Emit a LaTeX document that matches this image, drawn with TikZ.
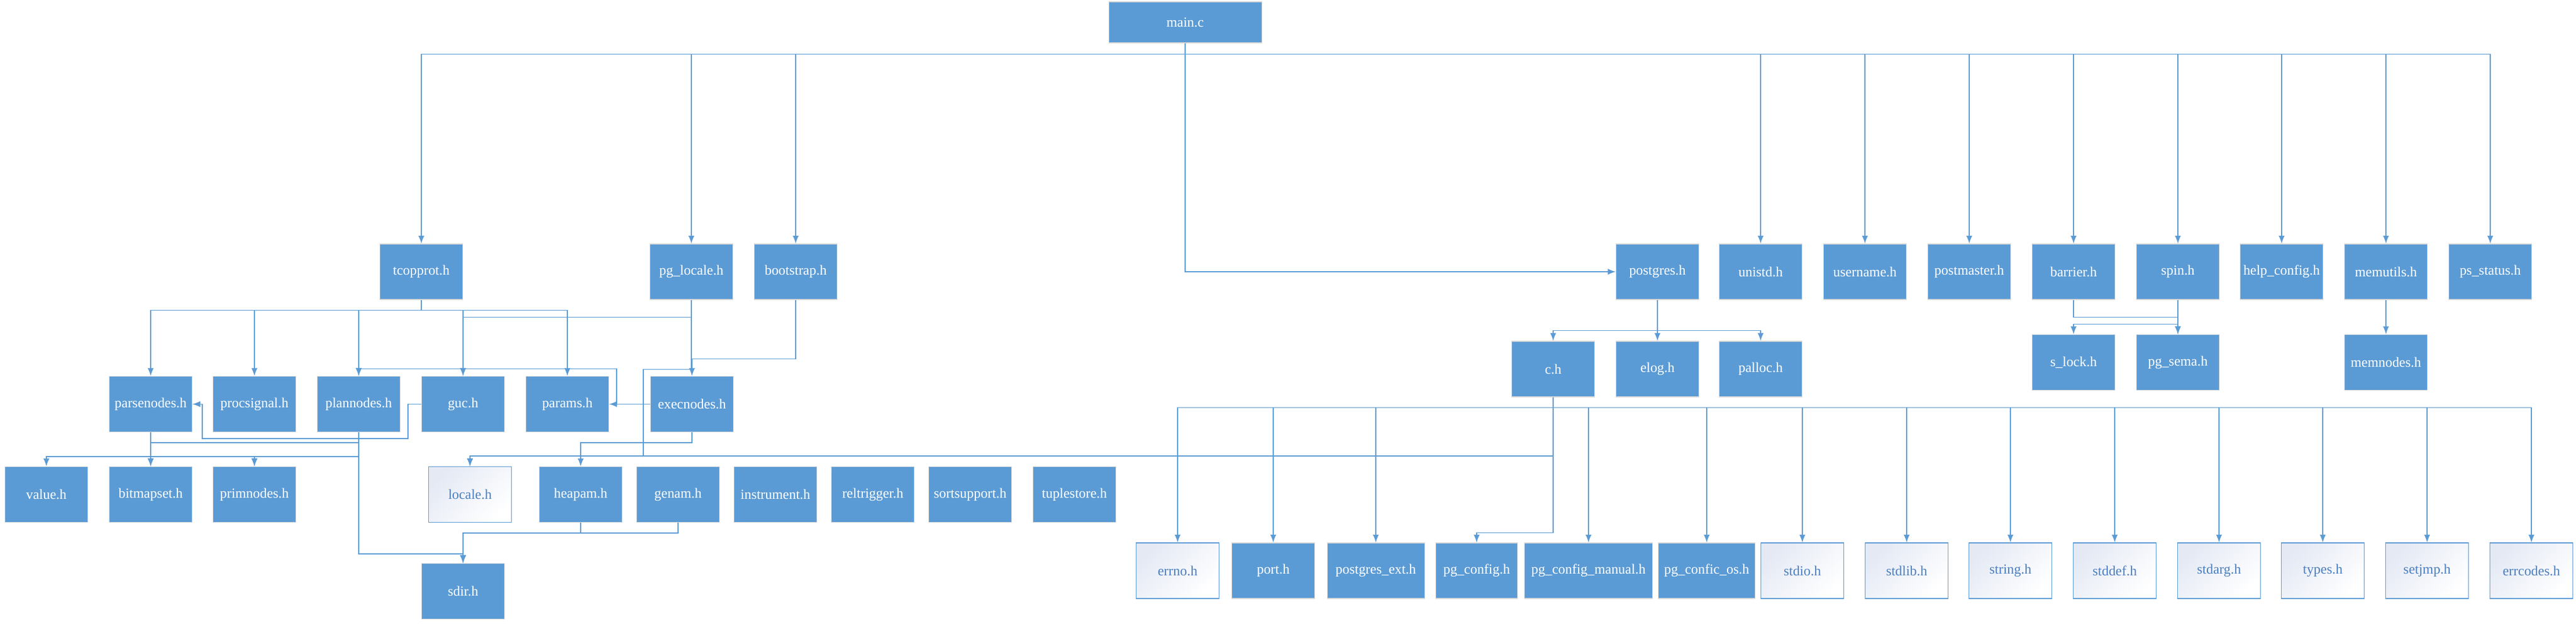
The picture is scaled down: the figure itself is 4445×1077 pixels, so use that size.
\documentclass[tikz,border=0pt]{standalone}
\usepackage{fontspec}
\setmainfont{Liberation Serif}
\definecolor{hblue}{HTML}{5B9BD5}
\definecolor{htext}{HTML}{4A7FC1}
\definecolor{hshade}{HTML}{E4E9F4}
\begin{document}
\begin{tikzpicture}[x=0.1mm,y=-0.1mm,
    hfile/.style={rectangle,fill=hblue,draw=black!15,line width=0.3pt,text=white,inner sep=0pt,
      minimum width=14.3mm,minimum height=9.6mm,font=\fontsize{6.8pt}{8pt}\selectfont},
    sysfile/.style={hfile,fill=white,draw=hblue,text=htext,top color=hshade,bottom color=white,shading angle=45},
    conn/.style={draw=hblue,line width=0.35pt}]
    \useasboundingbox (0,0) rectangle (4445,1077);
    \node[hfile,minimum width=26.4mm,minimum height=7.1mm] (mainc) at (2045,38.5) {main.c};
    \node[hfile] (tcopprot) at (727,469) {tcopprot.h};
    \node[hfile] (pglocale) at (1193,469) {pg\_locale.h};
    \node[hfile] (bootstrap) at (1373,469) {bootstrap.h};
    \node[hfile] (postgres) at (2860,469) {postgres.h};
    \node[hfile] (unistd) at (3038,469) {unistd.h};
    \node[hfile] (username) at (3218,469) {username.h};
    \node[hfile] (postmaster) at (3398,469) {postmaster.h};
    \node[hfile] (barrier) at (3578,469) {barrier.h};
    \node[hfile] (spin) at (3758,469) {spin.h};
    \node[hfile] (helpconfig) at (3937,469) {help\_config.h};
    \node[hfile] (memutils) at (4117,469) {memutils.h};
    \node[hfile] (psstatus) at (4297,469) {ps\_status.h};
    \node[hfile] (parsenodes) at (260,697.5) {parsenodes.h};
    \node[hfile] (procsignal) at (439,697.5) {procsignal.h};
    \node[hfile] (plannodes) at (619,697.5) {plannodes.h};
    \node[hfile] (guc) at (799,697.5) {guc.h};
    \node[hfile] (params) at (979,697.5) {params.h};
    \node[hfile] (execnodes) at (1194,697.5) {execnodes.h};
    \node[hfile] (ch) at (2680,637) {c.h};
    \node[hfile] (elog) at (2860,637) {elog.h};
    \node[hfile] (palloc) at (3038,637) {palloc.h};
    \node[hfile] (slock) at (3578,625.5) {s\_lock.h};
    \node[hfile] (pgsema) at (3758,625.5) {pg\_sema.h};
    \node[hfile] (memnodes) at (4117,625.5) {memnodes.h};
    \node[hfile] (value) at (80,853.5) {value.h};
    \node[hfile] (bitmapset) at (260,853.5) {bitmapset.h};
    \node[hfile] (primnodes) at (439,853.5) {primnodes.h};
    \node[sysfile] (locale) at (811,853.5) {locale.h};
    \node[hfile] (heapam) at (1002,853.5) {heapam.h};
    \node[hfile] (genam) at (1170,853.5) {genam.h};
    \node[hfile] (instrument) at (1338,853.5) {instrument.h};
    \node[hfile] (reltrigger) at (1506,853.5) {reltrigger.h};
    \node[hfile] (sortsupport) at (1674,853.5) {sortsupport.h};
    \node[hfile] (tuplestore) at (1854,853.5) {tuplestore.h};
    \node[hfile] (sdir) at (799,1020.5) {sdir.h};
    \node[sysfile] (errno) at (2032,985) {errno.h};
    \node[hfile] (port) at (2197,985) {port.h};
    \node[hfile,minimum width=16.8mm] (pgext) at (2374,985) {postgres\_ext.h};
    \node[hfile,minimum width=14.1mm] (pgconfig) at (2548,985) {pg\_config.h};
    \node[hfile,minimum width=22.1mm] (pgmanual) at (2741,985) {pg\_config\_manual.h};
    \node[hfile,minimum width=16.7mm] (pgos) at (2945,985) {pg\_confic\_os.h};
    \node[sysfile] (stdio) at (3110,985) {stdio.h};
    \node[sysfile] (stdlib) at (3290,985) {stdlib.h};
    \node[sysfile] (string) at (3469,985) {string.h};
    \node[sysfile] (stddef) at (3649,985) {stddef.h};
    \node[sysfile] (stdarg) at (3829,985) {stdarg.h};
    \node[sysfile] (types) at (4008,985) {types.h};
    \node[sysfile] (setjmp) at (4188,985) {setjmp.h};
    \node[sysfile] (errcodes) at (4368,985) {errcodes.h};
    \coordinate (lcbend) at (1110,787);
    \coordinate (gucbend) at (349,757);
    \foreach \n in {tcopprot,pglocale,bootstrap,unistd,username,postmaster,barrier,spin,helpconfig,memutils,psstatus}
        \draw[conn,-latex] (mainc.south) -- ++(0,19) -| (\n.north);
    \draw[conn,-latex] (mainc.south) |- (postgres.west);
    \foreach \n in {parsenodes,procsignal,plannodes,guc,params}
        \draw[conn,-latex] (tcopprot.south) -- ++(0,18) -| (\n.north);
    \draw[conn,-latex] (pglocale.south) -- ++(0,30) -| (guc.north);
    \draw[conn,-latex] (pglocale.south) -- ++(0,120) -| (lcbend) -| (locale.north);
    \draw[conn,-latex] (bootstrap.south) -- ++(0,102) -| (execnodes.north);
    \draw[conn,-latex] (execnodes.west) -- (params.east);
    \draw[conn,-latex] (execnodes.west) -- ++(-58,0) -- ++(0,-61) -| (plannodes.north);
    \draw[conn,-latex] (guc.west) -- ++(-23,0) |- (gucbend) |- (parsenodes.east);
    \draw[conn,-latex] (parsenodes.south) -- (bitmapset.north);
    \foreach \n in {value,primnodes}
        \draw[conn,-latex] (parsenodes.south) -- ++(0,42) -| (\n.north);
    \draw[conn,-latex] (plannodes.south) -- ++(0,18) -| (bitmapset.north);
    \draw[conn,-latex] (plannodes.south) -- ++(0,42) -| (primnodes.north);
    \draw[conn,-latex] (plannodes.south) -- ++(0,210) -| (sdir.north);
    \draw[conn,-latex] (execnodes.south) -- ++(0,18) -| (heapam.north);
    \draw[conn,-latex] (heapam.south) -- ++(0,18) -| (sdir.north);
    \draw[conn,-latex] (genam.south) -- ++(0,18) -| (sdir.north);
    \foreach \n in {ch,elog,palloc}
        \draw[conn,-latex] (postgres.south) -- ++(0,53) -| (\n.north);
    \draw[conn,-latex] (ch.south) |- (lcbend) -| (locale.north);
    \foreach \n in {errno,port,pgext,pgmanual,pgos,stdio,stdlib,string,stddef,stdarg,types,setjmp,errcodes}
        \draw[conn,-latex] (ch.south) -- ++(0,18) -| (\n.north);
    \draw[conn,-latex] (ch.south) -- ++(0,234) -| (pgconfig.north);
    \draw[conn,-latex] (barrier.south) -- ++(0,30) -| (pgsema.north);
    \draw[conn,-latex] (spin.south) -- ++(0,42) -| (slock.north);
    \draw[conn,-latex] (spin.south) -- (pgsema.north);
    \draw[conn,-latex] (memutils.south) -- (memnodes.north);
\end{tikzpicture}
\end{document}
